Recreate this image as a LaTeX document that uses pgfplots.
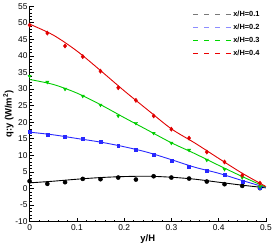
\documentclass[border=0pt]{standalone}
\usepackage{pgfplots}
\pgfplotsset{compat=1.18}
\usepackage{fontspec}
\setmainfont{Liberation Sans}
\definecolor{cred}{RGB}{225,0,0}
\definecolor{cgreen}{RGB}{0,205,0}
\definecolor{cblue}{RGB}{40,40,255}
\definecolor{lgray}{RGB}{120,120,120}
\definecolor{lblue}{RGB}{140,140,255}
\definecolor{lgreen}{RGB}{0,215,0}
\definecolor{lred}{RGB}{235,0,0}
\begin{document}
\begin{tikzpicture}
\begin{axis}[
  scale only axis,
  width=238bp, height=217bp,
  xmin=0, xmax=0.5, ymin=-10, ymax=55,
  axis lines*=left,
  axis line style={line width=0.8pt},
  xtick={0,0.1,0.2,0.3,0.4,0.5},
  ytick={-10,-5,0,5,10,15,20,25,30,35,40,45,50,55},
  minor x tick num=4, minor y tick num=4,
  tick align=inside,
  major tick length=4bp, minor tick length=2bp,
  tick style={black, line width=0.6pt},
  xticklabel style={/pgf/number format/fixed},
  /pgf/number format/assume math mode=true,
  ticklabel style={font=\fontsize{8.5}{9}\selectfont},
  yticklabel style={xshift=1.5bp},
  xlabel={\textbf{y/H}}, ylabel={\textbf{q:y (W/m$^{\mathbf{2}}$)}},
  label style={font=\fontsize{9.5}{10}\selectfont},
  xlabel style={yshift=3bp},
  ylabel style={yshift=-5bp},
  legend style={draw=none, fill=none, at={(0.995,0.995)}, anchor=north east,
    font=\bfseries\fontsize{7.5}{8}\selectfont, row sep=2pt},
  legend cell align=left,
  legend image code/.code={\draw[#1] (0bp,0bp) -- (38bp,0bp);},
  clip=false,
]
\addlegendimage{lgray, dash pattern=on 5bp off 6bp, line width=0.9pt}
\addlegendentry{x/H=0.1}
\addlegendimage{lblue, dash pattern=on 5bp off 6bp, line width=0.9pt}
\addlegendentry{x/H=0.2}
\addlegendimage{lgreen, dash pattern=on 5bp off 6bp, line width=0.9pt}
\addlegendentry{x/H=0.3}
\addlegendimage{lred, dash pattern=on 5bp off 6bp, line width=0.9pt}
\addlegendentry{x/H=0.4}
% lines
\addplot[black, line width=0.9pt, smooth, forget plot] coordinates {
(0,1.7)(0.05,2.2)(0.1,2.8)(0.15,3.3)(0.2,3.6)(0.25,3.7)(0.3,3.4)(0.35,2.8)(0.4,1.9)(0.45,1.0)(0.5,0.2)};
\addplot[cblue, line width=0.9pt, smooth, forget plot] coordinates {
(0,17.0)(0.05,16.2)(0.1,15.1)(0.15,14.0)(0.2,12.6)(0.25,10.9)(0.3,8.7)(0.35,6.4)(0.4,4.6)(0.45,2.4)(0.5,0.3)};
\addplot[cgreen, line width=0.9pt, smooth, forget plot] coordinates {
(0,32.9)(0.05,31.4)(0.1,28.8)(0.15,25.3)(0.2,21.4)(0.25,17.6)(0.3,13.8)(0.35,10.5)(0.4,7.0)(0.45,3.6)(0.5,0.4)};
\addplot[cred, line width=0.9pt, smooth, forget plot] coordinates {
(0,49.6)(0.05,46.3)(0.1,41.5)(0.15,35.6)(0.2,29.5)(0.25,23.7)(0.3,18.0)(0.35,13.7)(0.4,9.1)(0.45,4.6)(0.5,0.6)};
% markers
\addplot[only marks, mark=*, mark size=2.1pt, black, forget plot] coordinates {
(0,2.2)(0.0375,1.4)(0.075,1.9)(0.1125,2.9)(0.15,2.8)(0.1875,3.3)(0.225,2.7)(0.2625,3.7)(0.3,3.3)(0.3375,3.0)(0.375,2.1)(0.4125,1.3)(0.45,0.8)(0.4875,0.1)};
\addplot[only marks, mark=square*, mark size=1.5pt, cblue, forget plot] coordinates {
(0,17.2)(0.0375,16.3)(0.075,15.5)(0.1125,14.9)(0.15,14.0)(0.1875,13.0)(0.225,11.6)(0.2625,10.3)(0.3,8.5)(0.3375,6.6)(0.375,5.3)(0.4125,4.1)(0.45,2.0)(0.4875,0.1)};
\addplot[only marks, mark=triangle*, mark size=1.9pt, mark options={rotate=180}, cgreen, forget plot] coordinates {
(0,33.9)(0.0375,32.1)(0.075,30.0)(0.1125,27.9)(0.15,25.2)(0.1875,21.9)(0.225,19.7)(0.2625,16.7)(0.3,13.7)(0.3375,11.6)(0.375,8.6)(0.4125,5.8)(0.45,3.3)(0.4875,0.5)};
\addplot[only marks, mark=diamond*, mark size=2.2pt, cred, forget plot] coordinates {
(0,49.3)(0.0375,46.9)(0.075,43.0)(0.1125,39.8)(0.15,35.4)(0.1875,30.4)(0.225,26.6)(0.2625,21.9)(0.3,17.9)(0.3375,15.2)(0.375,11.0)(0.4125,8.0)(0.45,4.0)(0.4875,1.6)};
\end{axis}
\end{tikzpicture}
\end{document}
